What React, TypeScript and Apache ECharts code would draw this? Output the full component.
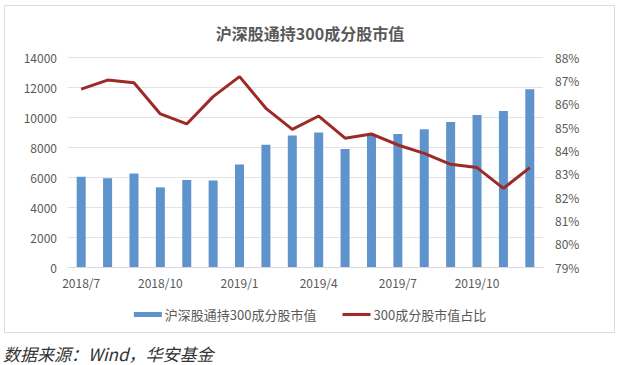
import React, { useEffect, useRef } from "react";
import * as echarts from "echarts";

const categories = [
  "2018/7", "2018/8", "2018/9", "2018/10", "2018/11", "2018/12",
  "2019/1", "2019/2", "2019/3", "2019/4", "2019/5", "2019/6",
  "2019/7", "2019/8", "2019/9", "2019/10", "2019/11", "2019/12",
];
const marketValue = [
  6020, 5910, 6240, 5310, 5800, 5760, 6840, 8150, 8760, 8960, 7870, 8800,
  8870, 9180, 9670, 10130, 10400, 11850,
];
const sharePct = [
  86.62, 87.01, 86.9, 85.56, 85.13, 86.3, 87.16, 85.8, 84.9, 85.47, 84.52,
  84.7, 84.23, 83.87, 83.4, 83.26, 82.37, 83.26,
];
const titleText = "沪深股通持300成分股市值";
const barName = "沪深股通持300成分股市值";
const lineName = "300成分股市值占比";
const sourceText = "数据来源：Wind，华安基金";

const FONT = "'Noto Sans CJK SC', 'Noto Sans', sans-serif";
const GRAY = "#595959";

export default function App() {
  const ref = useRef<HTMLDivElement>(null);
  useEffect(() => {
    if (!ref.current) return;
    const chart = echarts.init(ref.current, null, { renderer: "svg" });
    chart.setOption({
      animation: false,
      backgroundColor: "#ffffff",
      textStyle: { fontFamily: FONT },
      title: {
        text: titleText,
        left: "center",
        top: 20,
        textStyle: { fontSize: 16, fontWeight: 600, color: GRAY, fontFamily: FONT },
      },
      grid: { left: 68, right: 77, top: 57, bottom: 98 },
      legend: {
        top: 303,
        left: "center",
        itemGap: 26,
        itemWidth: 28,
        itemHeight: 5,
        textStyle: { fontSize: 13, color: GRAY, fontFamily: FONT, padding: [0, 0, 0, -2] },
        data: [
          { name: barName, icon: "rect" },
          { name: lineName, icon: "path://M0 0H100V11H0Z" },
        ],
      },
      xAxis: {
        type: "category",
        data: categories,
        boundaryGap: true,
        axisTick: { show: false },
        axisLine: { lineStyle: { color: "#d9d9d9" } },
        axisLabel: { interval: 2, color: GRAY, fontSize: 12, margin: 9, fontFamily: FONT },
      },
      yAxis: [
        {
          type: "value",
          min: 0,
          max: 14000,
          interval: 2000,
          axisLine: { show: false },
          axisTick: { show: false },
          splitLine: { lineStyle: { color: "#e3e3e3" } },
          axisLabel: {
            color: GRAY,
            fontSize: 12,
            margin: 11,
            fontFamily: FONT,
            formatter: (v: number) => String(v),
          },
        },
        {
          type: "value",
          min: 79,
          max: 88,
          interval: 1,
          axisLine: { show: false },
          axisTick: { show: false },
          splitLine: { show: false },
          axisLabel: { color: GRAY, fontSize: 12, margin: 12, formatter: "{value}%", fontFamily: FONT },
        },
      ],
      series: [
        {
          name: barName,
          type: "bar",
          data: marketValue,
          barWidth: 9,
          itemStyle: { color: "#5f93cb" },
          yAxisIndex: 0,
        },
        {
          name: lineName,
          type: "line",
          data: sharePct,
          yAxisIndex: 1,
          symbol: "none",
          lineStyle: { color: "#9c2a27", width: 3 },
          itemStyle: { color: "#9c2a27" },
        },
      ],
      graphic: [
        {
          type: "rect",
          shape: { x: 4.5, y: 5.5, width: 610, height: 327 },
          style: { fill: "none", stroke: "#dcdcdc", lineWidth: 1 },
          silent: true,
        },
        {
          type: "text",
          x: 3,
          y: 353,
          style: {
            text: sourceText,
            fontSize: 17,
            fontStyle: "italic",
            fontFamily: FONT,
            fill: "#333333",
            textVerticalAlign: "middle",
          },
        },
      ],
    });
    return () => chart.dispose();
  }, []);
  return (
    <div
      ref={ref}
      style={{ position: "fixed", left: 0, top: 0, width: 620, height: 365 }}
    />
  );
}
